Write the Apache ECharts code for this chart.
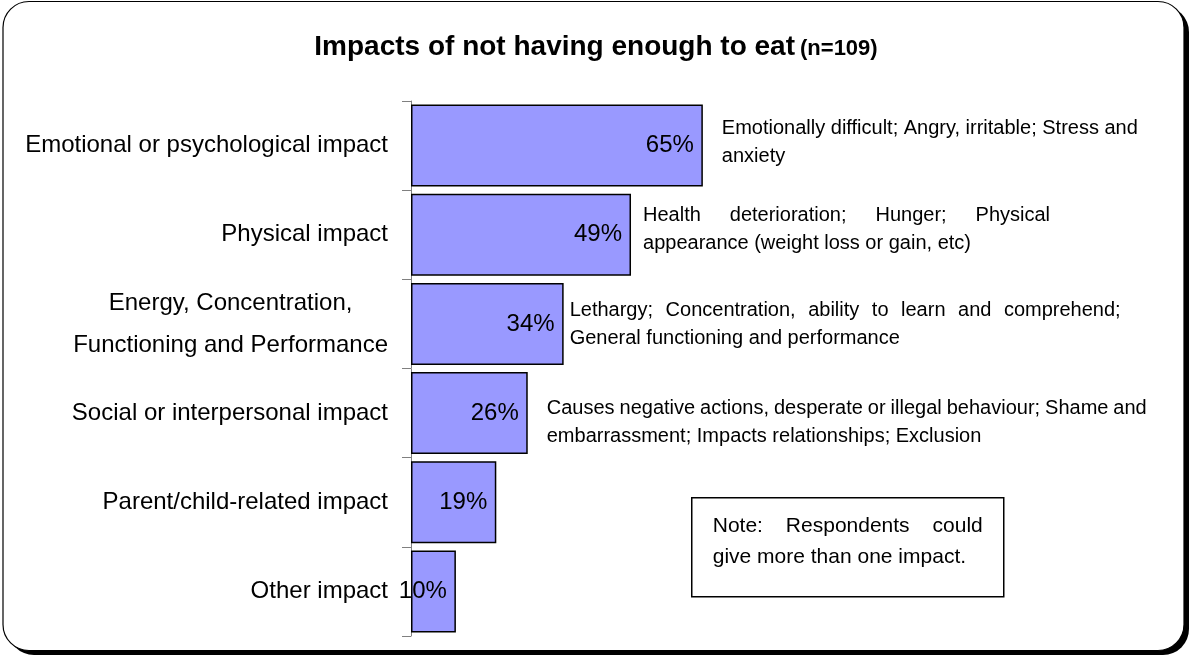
<!DOCTYPE html>
<html>
<head>
<meta charset="utf-8">
<style>
  html, body { margin: 0; padding: 0; background: #fff; }
  #chart { width: 1192px; height: 658px; }
</style>
<script src="https://cdn.jsdelivr.net/npm/echarts@6/dist/echarts.min.js"></script>
</head>
<body>
<div id="chart"></div>
<script>
// Survey results: share of respondents naming each kind of impact
const categories = [
  'Emotional or psychological impact',
  'Physical impact',
  'Energy, Concentration,\nFunctioning and Performance',
  'Social or interpersonal impact',
  'Parent/child-related impact',
  'Other impact'
];
const percentages = [65, 49, 34, 26, 19, 10];

// Examples given for each impact (first line justified, rest ragged)
const impactNotes = [
  ['Emotionally difficult; Angry, irritable; Stress and', 'anxiety'],
  ['Health deterioration; Hunger; Physical', 'appearance (weight loss or gain, etc)'],
  ['Lethargy; Concentration, ability to learn and comprehend;', 'General functioning and performance'],
  ['Causes negative actions, desperate or illegal behaviour; Shame and', 'embarrassment; Impacts relationships; Exclusion'],
  [],
  []
];

const titleText = 'Impacts of not having enough to eat';
const sampleText = '(n=109)';
const footnoteLines = ['Note: Respondents could', 'give more than one impact.'];

const FONT = '"Liberation Sans", Arial, Helvetica, sans-serif';

// ---- text justification helpers ----
const measureCtx = document.createElement('canvas').getContext('2d');
function textWidth(str, size) {
  measureCtx.font = size + 'px ' + FONT;
  return measureCtx.measureText(str).width;
}

const rich = {};
let gapId = 0;
function baseStyle(size, lh) {
  return { fontSize: size, lineHeight: lh, fontFamily: FONT, color: '#000' };
}
// Build a rich-text line whose words are spread over boxWidth
function justifyLine(line, boxWidth, size, lh, wordStyle) {
  const words = line.split(' ');
  if (words.length < 2) return '{' + wordStyle + '|' + line + '}';
  const total = words.reduce((s, w) => s + textWidth(w, size), 0);
  let gap = (boxWidth - total) / (words.length - 1);
  gap = Math.max(gap, textWidth(' ', size) * 0.6);
  const name = 'g' + (gapId++);
  rich[name] = Object.assign(baseStyle(size, lh), { width: gap });
  return words.map(w => '{' + wordStyle + '|' + w + '}').join('{' + name + '| }');
}

rich.n = baseStyle(20, 28);
rich.f = baseStyle(21, 31);

// text box widths and placement of the example notes beside each bar
const noteBoxWidths = [416, 407, 551, 600, 0, 0];
const noteOffsets = [[19, -3], [12, -5], [6, 1], [19, 9], [0, 0], [0, 0]];

const noteLabels = impactNotes.map((lines, i) => {
  if (!lines.length) return '';
  const first = justifyLine(lines[0], noteBoxWidths[i], 20, 28, 'n');
  const rest = lines.slice(1).map(l => '{n|' + l + '}');
  return [first].concat(rest).join('\n');
});

const footnoteText = [justifyLine(footnoteLines[0], 270, 21, 31, 'f'), '{f|' + footnoteLines[1] + '}'].join('\n');

const chart = echarts.init(document.getElementById('chart'), null, { renderer: 'canvas' });

const option = {
  backgroundColor: '#fff',
  animation: false,
  title: {
    text: '{a|' + titleText + '} {b|' + sampleText + '}',
    left: 'center',
    top: 28,
    textStyle: {
      rich: {
        a: { fontSize: 28, fontWeight: 'bold', fontFamily: FONT, color: '#000' },
        b: { fontSize: 22, fontWeight: 'bold', fontFamily: FONT, color: '#000', padding: [3, 0, 0, 0] }
      }
    }
  },
  graphic: [
    // drop shadow of the frame
    { type: 'rect', z: -10, silent: true,
      shape: { x: 8, y: 6, width: 1181, height: 649, r: 26 },
      style: { fill: '#000' } },
    // frame
    { type: 'rect', z: -9, silent: true,
      shape: { x: 3, y: 1.5, width: 1181, height: 649, r: 26 },
      style: { fill: '#fff', stroke: '#000', lineWidth: 1.2 } },
    // footnote box
    { type: 'group', left: 691, top: 497, children: [
      { type: 'rect', shape: { x: 0, y: 0, width: 312, height: 99 },
        style: { fill: '#fff', stroke: '#000', lineWidth: 1.5 } },
      { type: 'text', x: 21, y: 13,
        style: { text: footnoteText, rich: rich, fontSize: 21, fontFamily: FONT, fill: '#000' } }
    ] }
  ],
  grid: { left: 411, right: 332, top: 101, bottom: 22, containLabel: false },
  xAxis: {
    type: 'value', min: 0, max: 100, show: false
  },
  yAxis: {
    type: 'category',
    data: categories,
    inverse: true,
    axisLine: { show: true, lineStyle: { color: '#808080', width: 1 } },
    axisTick: { show: true, length: 9, lineStyle: { color: '#808080', width: 1 } },
    axisLabel: {
      margin: 23,
      color: '#000',
      fontSize: 24,
      fontFamily: FONT,
      lineHeight: 42,
      formatter: function (v) {
        if (v.indexOf('\n') < 0) return v;
        return v.split('\n').map(s => '{c|' + s + '}').join('\n');
      },
      rich: { c: { fontSize: 24, fontFamily: FONT, color: '#000', lineHeight: 42, align: 'center' } }
    },
    splitLine: { show: false }
  },
  series: [
    {
      type: 'bar',
      data: percentages,
      barCategoryGap: '8%',
      itemStyle: { color: '#9999FF', borderColor: '#000', borderWidth: 1.5 },
      label: {
        show: true,
        position: 'insideRight',
        distance: 9,
        formatter: '{c}%',
        color: '#000',
        fontSize: 24,
        fontFamily: FONT
      },
      z: 2
    },
    {
      type: 'bar',
      barGap: '-100%',
      barCategoryGap: '8%',
      silent: true,
      data: percentages.map((v, i) => ({
        value: v,
        label: {
          show: !!noteLabels[i],
          distance: noteOffsets[i][0],
          offset: [0, noteOffsets[i][1]]
        }
      })),
      itemStyle: { color: 'rgba(0,0,0,0)', borderWidth: 0 },
      label: {
        position: 'right',
        formatter: function (p) { return noteLabels[p.dataIndex]; },
        rich: rich,
        fontFamily: FONT
      },
      z: 1
    }
  ]
};

chart.setOption(option);
</script>
</body>
</html>
